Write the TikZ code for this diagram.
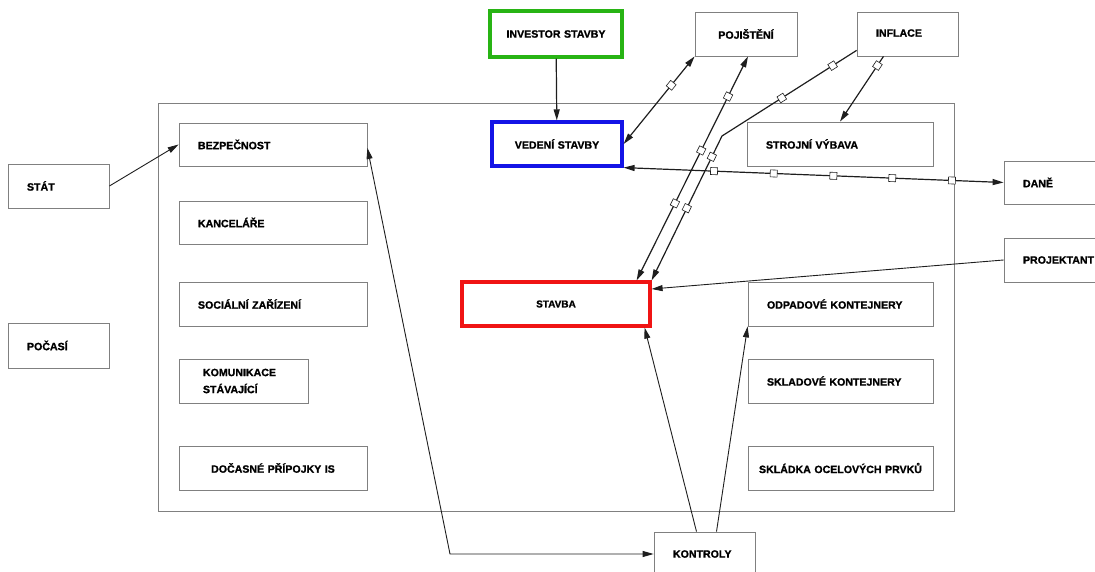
\documentclass[tikz,border=0pt]{standalone}
\usepackage{fontspec}
\setmainfont{Liberation Sans}[BoldFeatures={FakeBold=1.2}]
\usetikzlibrary{arrows.meta,calc}
\definecolor{boxgray}{RGB}{128,128,128}
\definecolor{lineblack}{RGB}{30,30,30}
\definecolor{invgreen}{RGB}{40,180,20}
\definecolor{vedblue}{RGB}{20,20,230}
\definecolor{stavred}{RGB}{240,20,20}
\begin{document}
\begin{tikzpicture}[x=1pt,y=-1pt,
  box/.style={draw=boxgray, line width=0.8pt, fill=white, rectangle, inner ysep=0pt,
    minimum height=44pt, font=\bfseries\fontsize{10.6}{17}\selectfont, align=left, inner xsep=19pt},
  cbox/.style={box, align=center, inner xsep=5pt},
  thickbox/.style={cbox, line width=3.2pt},
  frame/.style={draw=boxgray, line width=0.8pt, rectangle, inner sep=0pt},
  conn/.style={draw=lineblack, line width=1.2pt},
  tconn/.style={draw=lineblack, line width=0.9pt},
  tip/.style={-{Triangle[length=11pt,width=6pt]}},
  tips/.style={{Triangle[length=11pt,width=6pt]}-{Triangle[length=11pt,width=6pt]}},
  mk/.style={draw=lineblack, fill=white, line width=0.6pt, rectangle, minimum size=7pt, inner sep=0pt, sloped}
]
\useasboundingbox (0,0) rectangle (1095,572);

% site frame
\node[frame, minimum width=796pt, minimum height=408pt] (site) at (556,307) {};

% top boxes
\node[thickbox, draw=invgreen, text width=122pt, minimum height=46pt] (inv) at (556,34) {INVESTOR STAVBY};
\node[cbox, text width=92pt] (poj) at (746,34) {POJIŠTĚNÍ};
\node[box, text width=63pt] (inf) at (907.5,34) {\raisebox{2pt}{INFLACE}};
\node[thickbox, draw=vedblue, text width=120pt] (ved) at (557,144) {VEDENÍ STAVBY};
\node[box, text width=148pt] (stroj) at (840,144) {STROJNÍ VÝBAVA};
\node[box, text width=72pt, minimum height=43pt] (dane) at (1059,182.5) {DANĚ};
\node[box, text width=72pt] (proj) at (1059,260) {PROJEKTANT};
\node[thickbox, draw=stavred, text width=178pt, font=\bfseries\fontsize{10}{12}\selectfont] (stavba) at (556,304) {STAVBA};

% right column
\node[box, text width=147pt] (odpad) at (840.5,304) {ODPADOVÉ KONTEJNERY};
\node[box, text width=147pt] (sklad) at (840.5,381) {SKLADOVÉ KONTEJNERY};
\node[cbox, text width=175pt] (skladka) at (840.5,468) {SKLÁDKA OCELOVÝCH PRVKŮ};

% left column
\node[box, text width=150pt, minimum height=43pt] (bezp) at (273,144.5) {BEZPEČNOST};
\node[box, text width=150pt, minimum height=43pt] (kanc) at (273,222.5) {KANCELÁŘE};
\node[box, text width=150pt] (soc) at (273,304) {SOCIÁLNÍ ZAŘÍZENÍ};
\node[box, text width=81pt, inner xsep=24pt] (komun) at (243.5,381) {KOMUNIKACE\\STÁVAJÍCÍ};
\node[cbox, text width=178pt] (docas) at (273,468) {DOČASNÉ PŘÍPOJKY IS};

% outside left
\node[box, text width=63pt] (stat) at (58.5,186) {STÁT};
\node[box, text width=63pt, minimum height=45pt] (pocasi) at (58.5,345.5) {POČASÍ};

% bottom
\node[box, text width=63pt] (kontroly) at (704.5,554) {KONTROLY};

% helper coordinates
\coordinate (ib) at (722,136);
\coordinate (kc) at (450,554);

% connectors
\draw[conn, tip] (inv) -- (ved);
\draw[conn, tips] (ved.east) -- node[mk, pos=0.67] {} (poj.south west);
\draw[conn, tips] ([xshift=-15pt]stavba.north east) -- node[mk, pos=0.344] {} node[mk, pos=0.58] {} node[mk, pos=0.821] {} ([xshift=2pt]poj.south);
\draw[conn, tip] ([yshift=6pt]inf.south west) -- node[mk, pos=0.178] {} node[mk, pos=0.556] {} (ib) -- node[mk, pos=0.144] {} node[mk, pos=0.5] {} (stavba.north east);
\draw[conn, tip] ([xshift=-24pt]inf.south) -- node[mk, pos=0.14] {} (stroj.north);
\draw[conn, tips] (ved.south east) -- node[mk, pos=0.238] {} node[mk, pos=0.395] {} node[mk, pos=0.552] {} node[mk, pos=0.707] {} node[mk, pos=0.864] {} (dane.west);
\draw[tconn, tip] (proj.west) -- ([yshift=15pt]stavba.east);
\draw[tconn, tip] (stat.east) -- (bezp.west);
\draw[tconn, tips] ([yshift=-3.5pt]bezp.east) -- (kc) -- (kontroly.west);
\draw[tconn, tip] ([xshift=-8pt]kontroly.north) -- ([xshift=-7pt]stavba.south east);
\draw[tconn, tip] ([xshift=12pt]kontroly.north) -- (odpad.south west);
\end{tikzpicture}
\end{document}
